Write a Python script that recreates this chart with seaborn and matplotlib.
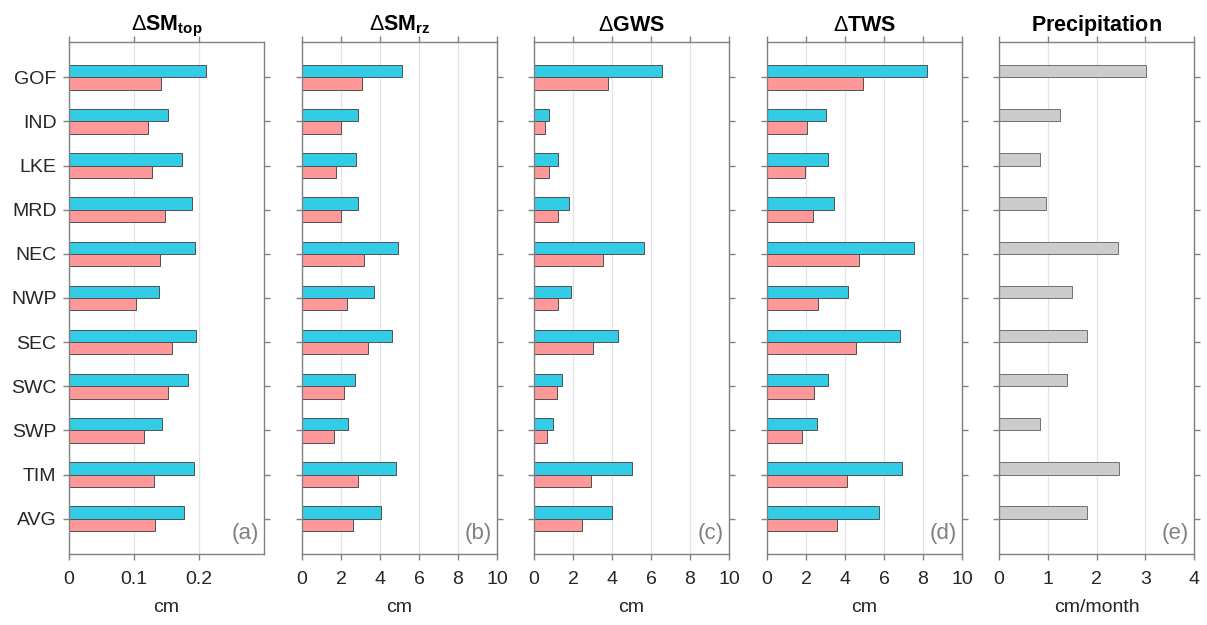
"""
Storage change (wet vs dry) per region, five panels of horizontal bars.
Writes out.png.
"""
import matplotlib
matplotlib.use("Agg")
import matplotlib.pyplot as plt
import numpy as np
import pandas as pd
import seaborn as sns

regions = ["GOF", "IND", "LKE", "MRD", "NEC", "NWP", "SEC", "SWC", "SWP", "TIM", "AVG"]

# panel (a) dSM top, cm
sm_top_blue = [0.210, 0.153, 0.174, 0.189, 0.194, 0.139, 0.195, 0.183, 0.143, 0.192, 0.177]
sm_top_red = [0.141, 0.121, 0.128, 0.148, 0.140, 0.103, 0.158, 0.153, 0.115, 0.131, 0.132]
# panel (b) dSM root zone, cm
sm_rz_blue = [5.15, 2.87, 2.79, 2.89, 4.92, 3.69, 4.60, 2.74, 2.36, 4.84, 4.03]
sm_rz_red = [3.08, 2.00, 1.76, 2.00, 3.18, 2.29, 3.40, 2.15, 1.62, 2.87, 2.62]
# panel (c) dGWS, cm
gws_blue = [6.58, 0.79, 1.25, 1.78, 5.62, 1.91, 4.32, 1.42, 0.96, 5.01, 4.02]
gws_red = [3.81, 0.58, 0.79, 1.25, 3.56, 1.25, 3.04, 1.18, 0.65, 2.94, 2.44]
# panel (d) dTWS, cm
tws_blue = [8.22, 3.03, 3.13, 3.42, 7.52, 4.15, 6.84, 3.11, 2.58, 6.94, 5.74]
tws_red = [4.91, 2.07, 1.95, 2.38, 4.74, 2.63, 4.55, 2.43, 1.78, 4.09, 3.59]
# panel (e) precipitation, cm/month
precip = [3.02, 1.26, 0.84, 0.97, 2.44, 1.49, 1.80, 1.39, 0.84, 2.47, 1.81]

BLUE = "#33CCE6"
RED = "#FF9999"
GREY = "#CCCCCC"

sns.set_theme(style="white")
plt.rcParams["font.family"] = ["Liberation Sans", "DejaVu Sans"]
plt.rcParams["mathtext.fontset"] = "custom"
plt.rcParams["mathtext.rm"] = "Liberation Sans"
plt.rcParams["mathtext.bf"] = "Liberation Sans:bold"
plt.rcParams["mathtext.it"] = "Liberation Sans:italic"

panels = [
    (r"$\Delta\mathbf{SM}_{\mathbf{top}}$", sm_top_blue, sm_top_red, 0.3, [0, 0.1, 0.2], ["0", "0.1", "0.2"], "cm", "(a)"),
    (r"$\Delta\mathbf{SM}_{\mathbf{rz}}$", sm_rz_blue, sm_rz_red, 10, [0, 2, 4, 6, 8, 10], None, "cm", "(b)"),
    (r"$\Delta\mathbf{GWS}$", gws_blue, gws_red, 10, [0, 2, 4, 6, 8, 10], None, "cm", "(c)"),
    (r"$\Delta\mathbf{TWS}$", tws_blue, tws_red, 10, [0, 2, 4, 6, 8, 10], None, "cm", "(d)"),
    (r"$\mathbf{Precipitation}$", precip, None, 4, [0, 1, 2, 3, 4], None, "cm/month", "(e)"),
]

fig = plt.figure(figsize=(12.07, 6.25), dpi=100)
W, H = 1207, 625
lefts = [69, 302, 534, 767, 999]

for i, (title, blue, red, xmax, xticks, xlabels, xlab, letter) in enumerate(panels):
    ax = fig.add_axes([lefts[i] / W, 1 - 554 / H, 195 / W, 512 / H])
    if red is not None:
        df = pd.DataFrame({
            "region": regions * 2,
            "value": list(blue) + list(red),
            "set": ["blue"] * len(regions) + ["red"] * len(regions),
        })
        sns.barplot(data=df, x="value", y="region", hue="set", hue_order=["blue", "red"],
                    palette={"blue": BLUE, "red": RED}, saturation=1, orient="h", width=0.56,
                    edgecolor="#505050", linewidth=0.7, legend=False, ax=ax)
    else:
        # precipitation only occupies the upper slot of each pair; the lower slot is empty
        df = pd.DataFrame({
            "region": regions * 2,
            "value": list(precip) + [np.nan] * len(regions),
            "set": ["p"] * len(regions) + ["none"] * len(regions),
        })
        sns.barplot(data=df, x="value", y="region", hue="set", hue_order=["p", "none"],
                    palette={"p": GREY, "none": GREY}, saturation=1, orient="h", width=0.56,
                    edgecolor="#707070", linewidth=0.7, legend=False, ax=ax)

    ax.set_xlim(0, xmax)
    ax.set_ylim(len(regions) - 0.2, -0.8)
    ax.set_xticks(xticks)
    if xlabels is not None:
        ax.set_xticklabels(xlabels)
    ax.set_xlabel(xlab, fontsize=14, color="#262626", labelpad=8)
    ax.set_ylabel("")
    if i > 0:
        ax.set_yticklabels([])
    ax.set_title(title, fontsize=15.5, color="black", pad=8)

    ax.grid(axis="x", color="#E3E3E3", linewidth=0.9)
    ax.set_axisbelow(True)
    for s in ax.spines.values():
        s.set_visible(True)
        s.set_color("#808080")
        s.set_linewidth(1.0)
    ax.tick_params(axis="both", direction="out", length=4, width=1.0, color="#808080",
                   labelsize=14, labelcolor="#262626", top=True, right=True,
                   bottom=True, left=True, labeltop=False, labelright=False)
    ax.tick_params(axis="x", pad=8)
    ax.tick_params(axis="y", pad=5)

    ax.text(0.975, 0.02, letter, transform=ax.transAxes, ha="right", va="bottom",
            fontsize=16, color="#808080")

fig.savefig("out.png", dpi=100)
